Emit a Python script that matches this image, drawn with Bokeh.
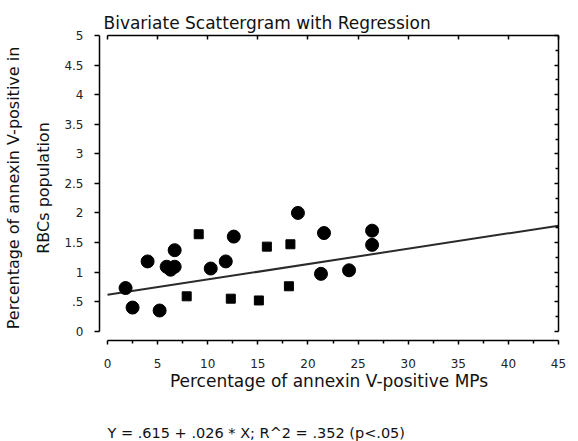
from bokeh.plotting import figure
from bokeh.models import LinearAxis, Range1d, FixedTicker, Title
from bokeh.embed import file_html
from bokeh.resources import INLINE

# ---- data ----
big_x = [1.8, 2.5, 4.0, 5.2, 5.9, 6.3, 6.7, 6.7, 10.3, 11.8, 12.6, 19.0, 21.6, 21.3, 24.1, 26.4, 26.4]
big_y = [0.73, 0.40, 1.18, 0.35, 1.09, 1.04, 1.09, 1.37, 1.06, 1.18, 1.60, 2.00, 1.66, 0.97, 1.03, 1.70, 1.46]
small_x = [7.9, 9.1, 12.3, 15.1, 15.9, 18.1, 18.25]
small_y = [0.59, 1.64, 0.55, 0.52, 1.43, 0.76, 1.47]
intercept = 0.615
slope = 0.026
line_x = [0, 45]
line_y = [intercept + slope * v for v in line_x]

x_ticks = [0, 5, 10, 15, 20, 25, 30, 35, 40, 45]
y_ticks = [0, 0.5, 1, 1.5, 2, 2.5, 3, 3.5, 4, 4.5, 5]
y_tick_labels = ["0", ".5", "1", "1.5", "2", "2.5", "3", "3.5", "4", "4.5", "5"]

title_text = "Bivariate Scattergram with Regression"
x_label = "Percentage of annexin V-positive MPs"
y_label = "Percentage of annexin V-positive in\nRBCs population"
formula = "Y = .615 + .026 * X; R^2 = .352 (p<.05)"

FONT = "DejaVu Sans"

p = figure(width=578, height=441, output_backend="svg", toolbar_location=None,
           x_range=Range1d(-0.8, 45), y_range=Range1d(-0.157, 5),
           x_axis_location=None, y_axis_location=None,
           min_border_left=99, min_border_right=20, min_border_top=35, min_border_bottom=100)
p.outline_line_color = None
p.xgrid.visible = False
p.ygrid.visible = False
p.background_fill_color = "white"
p.border_fill_color = "white"

def style(ax):
    ax.axis_line_width = 1.5
    ax.axis_line_color = "black"
    ax.major_tick_line_color = "black"
    ax.minor_tick_line_color = "black"
    ax.major_tick_line_width = 1.5
    ax.minor_tick_line_width = 1.5
    ax.major_label_text_font = FONT
    ax.major_label_text_font_size = "12px"
    ax.major_label_text_color = "#222222"
    ax.axis_label_text_font = FONT
    ax.axis_label_text_font_size = "16px"
    ax.axis_label_text_font_style = "normal"
    ax.axis_label_text_color = "#111111"

# bottom axis (second, blank label line reserves room above the formula)
bx = LinearAxis(bounds=(0, 45), ticker=FixedTicker(ticks=x_ticks, minor_ticks=[2.5 + 5 * i for i in range(9)]),
                axis_label=x_label + "\n\u00a0")
style(bx)
bx.axis_label_text_font_size = "17px"
bx.axis_label_text_line_height = 1.4
bx.major_tick_in = 0
bx.major_tick_out = 4
bx.minor_tick_in = 0
bx.minor_tick_out = 3
bx.major_label_standoff = 14
bx.axis_label_standoff = 0
p.add_layout(bx, "below")

# left axis
ly = LinearAxis(bounds=(0, 5), ticker=FixedTicker(ticks=y_ticks),
                axis_label=y_label)
style(ly)
ly.major_tick_in = 0
ly.major_tick_out = 5
ly.minor_tick_out = 0
ly.minor_tick_in = 0
ly.major_label_standoff = 11
ly.major_label_overrides = {t: s for t, s in zip(y_ticks, y_tick_labels)}
ly.axis_label_standoff = 8
ly.axis_label_text_line_height = 1.6
p.add_layout(ly, "left")

# top axis (no labels)
tx = LinearAxis(bounds=(0, 45), ticker=FixedTicker(ticks=x_ticks))
style(tx)
tx.major_tick_in = 4
tx.major_tick_out = 0
tx.minor_tick_in = 0
tx.minor_tick_out = 0
tx.major_label_overrides = {t: "" for t in x_ticks}
tx.major_label_standoff = 0
p.add_layout(tx, "above")

# right axis (no labels)
ry = LinearAxis(bounds=(0, 5), ticker=FixedTicker(ticks=y_ticks, minor_ticks=[0.25 + 0.5 * i for i in range(10)]))
style(ry)
ry.major_tick_in = 4
ry.major_tick_out = 0
ry.minor_tick_in = 3
ry.minor_tick_out = 0
ry.major_label_overrides = {t: "" for t in y_ticks}
ry.major_label_standoff = 0
p.add_layout(ry, "right")

# title
p.add_layout(Title(text=title_text, align="left", offset=4, text_font=FONT,
                   text_font_size="17px", text_font_style="normal", text_color="#111111",
                   standoff=5), "above")

# formula under the chart
p.add_layout(Title(text=formula, align="left", offset=8, text_font=FONT,
                   text_font_size="14.5px", text_font_style="normal", text_color="#111111",
                   standoff=2), "below")

# regression line
p.line(line_x, line_y, line_color="#2a2a2a", line_width=2)

# points
p.scatter(big_x, big_y, marker="circle", size=13, fill_color="black", line_color="black")
p.scatter(small_x, small_y, marker="square", size=9, fill_color="black", line_color="black")

open("out.html", "w").write(file_html(p, INLINE))
